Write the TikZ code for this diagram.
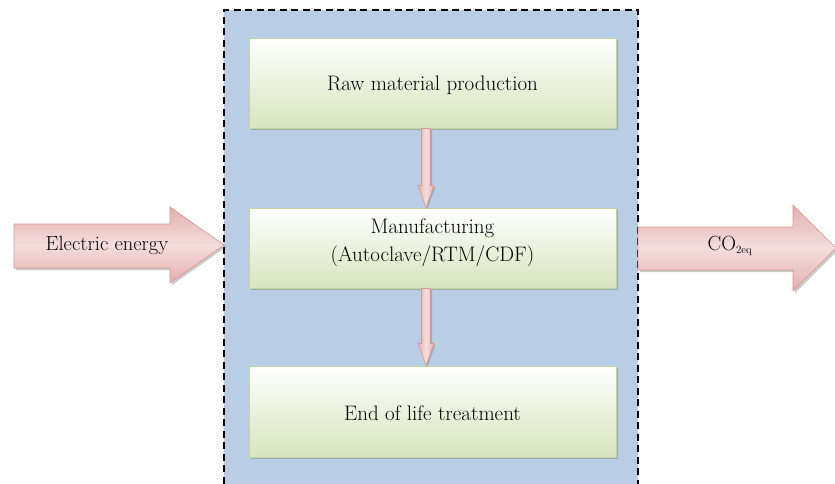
\documentclass[tikz,border=0pt]{standalone}
\usetikzlibrary{shadows,calc}
\definecolor{panelblue}{HTML}{B9CDE5}
\definecolor{boxgreen}{HTML}{D7E4BD}
\definecolor{boxedge}{HTML}{C3D69B}
\definecolor{pinkdark}{HTML}{E3AFAE}
\definecolor{pinklight}{HTML}{F4DEDD}
\definecolor{pinkedge}{HTML}{D99694}
\tikzset{
  stagebox/.style={draw=boxedge, line width=1pt, top color=white, bottom color=boxgreen,
    minimum width=367pt, inner sep=0pt, align=center,
    drop shadow={opacity=0.35, shadow xshift=2pt, shadow yshift=-2pt, fill=black!60}},
  blockarrow/.style={draw=pinkedge, line width=0.6pt, top color=pinkdark, bottom color=pinkdark, middle color=pinklight,
    drop shadow={opacity=0.35, shadow xshift=2pt, shadow yshift=-2pt, fill=black!60}},
  flowarrow/.style={draw=pinkedge, line width=0.6pt, left color=pinkdark, right color=pinkdark, middle color=pinklight,
    drop shadow={opacity=0.3, shadow xshift=1.5pt, shadow yshift=-1.5pt, fill=black!60}},
  lbl/.style={font=\fontsize{21}{28}\selectfont, align=center, inner sep=0pt},
  arrlbl/.style={font=\fontsize{20.5}{24}\selectfont, align=center, inner sep=0pt}
}
\begin{document}
\begin{tikzpicture}[x=1pt,y=-1pt]
\useasboundingbox (0,0) rectangle (835,483);
% panel
\fill[panelblue] (224,10) rectangle (638,495);
\draw[dash pattern=on 7pt off 4.5pt, line width=1.6pt] (224,495) -- (224,10) -- (638,10) -- (638,495);
% stage boxes
\node[stagebox, minimum height=90pt] (raw) at (432.5,83) {};
\node[lbl] at (432.5,85) {Raw material production};
\node[stagebox, minimum height=80pt] (man) at (432.5,248) {};
\node[lbl] at (432.5,243) {Manufacturing\\(Autoclave/RTM/CDF)};
\node[stagebox, minimum height=91pt] (eol) at (432.5,411.5) {};
\node[lbl] at (432.5,413) {End of life treatment};
% vertical flow arrows
\coordinate (a1s) at ($(raw.south)+(-6.5,0)$);
\coordinate (a1e) at ($(man.north)+(-6.5,0)$);
\draw[flowarrow] ($(a1s)+(-4.5,0)$) -- ($(a1e)+(-4.5,-22)$) -- ($(a1e)+(-8,-22)$) -- (a1e) -- ($(a1e)+(8,-22)$) -- ($(a1e)+(4.5,-22)$) -- ($(a1s)+(4.5,0)$) -- cycle;
\coordinate (a2s) at ($(man.south)+(-6.5,0)$);
\coordinate (a2e) at ($(eol.north)+(-6.5,0)$);
\draw[flowarrow] ($(a2s)+(-4.5,0)$) -- ($(a2e)+(-4.5,-22)$) -- ($(a2e)+(-8,-22)$) -- (a2e) -- ($(a2e)+(8,-22)$) -- ($(a2e)+(4.5,-22)$) -- ($(a2s)+(4.5,0)$) -- cycle;
% input arrow
\coordinate (intip) at (224,245);
\draw[blockarrow] (14,224) -- (170,224) -- (170,207) -- (intip) -- (170,283) -- (170,268) -- (14,268) -- cycle;
\node[arrlbl] (elec) at (107,245) {Electric energy};
% output arrow
\coordinate (outtip) at (836,248);
\draw[blockarrow] (638,227) -- (793,227) -- (793,205) -- (outtip) -- (793,291) -- (793,270) -- (638,270) -- cycle;
\node[arrlbl] (co2) at (730,246) {CO\textsubscript{\fontsize{11}{12}\selectfont 2eq}};
\end{tikzpicture}
\end{document}
